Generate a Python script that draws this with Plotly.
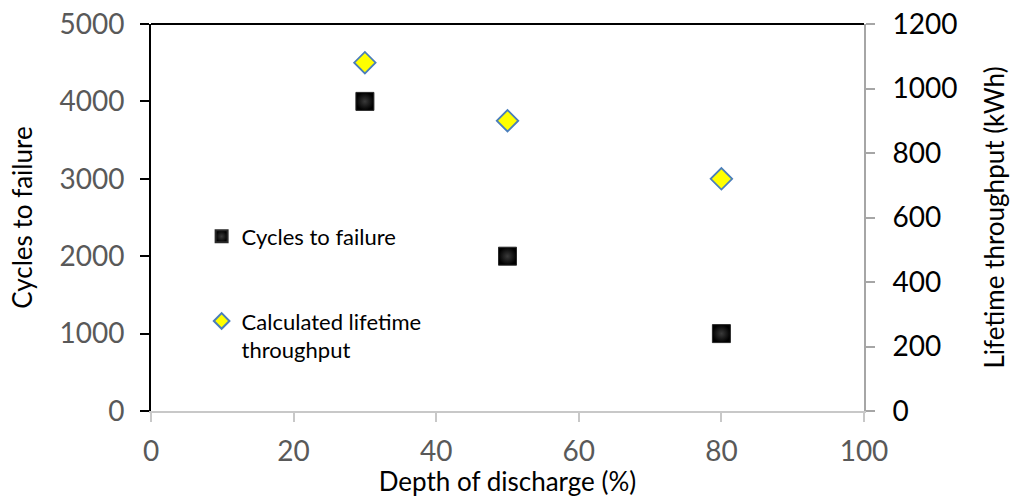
import plotly.graph_objects as go

# Depth of discharge (%) and measured / derived battery life
depth_of_discharge = [30, 50, 80]
cycles_to_failure = [4000, 2000, 1000]
lifetime_throughput_kwh = [1080, 900, 720]

x_ticks = [0, 20, 40, 60, 80, 100]
left_ticks = [0, 1000, 2000, 3000, 4000, 5000]
right_ticks = [0, 200, 400, 600, 800, 1000, 1200]

FONT = "Lato"
GREY_TXT = "#595959"
TICK_SIZE = 28
TITLE_SIZE = 26

fig = go.Figure()

fig.add_trace(go.Scatter(
    x=depth_of_discharge, y=cycles_to_failure,
    mode="markers", name="Cycles to failure",
    legendgroup="a",
    marker=dict(symbol="square", size=18, color="#000000",
                gradient=dict(type="radial", color="#3a3a3a"),
                line=dict(color="#2a2a2a", width=1)),
    xaxis="x", yaxis="y",
))

fig.add_trace(go.Scatter(
    x=depth_of_discharge, y=lifetime_throughput_kwh,
    mode="markers", name="Calculated lifetime<br>throughput",
    legendgroup="b",
    marker=dict(symbol="diamond", size=16.5, color="#ffff00",
                line=dict(color="#4a7ebb", width=1.8)),
    xaxis="x", yaxis="y2",
))

# horizontal rule closing the plot area at the top
fig.add_shape(type="line", xref="paper", yref="paper", x0=0, x1=1, y0=1, y1=1,
              line=dict(color="#000000", width=2), layer="below")

fig.update_layout(
    width=1010, height=497,
    margin=dict(l=151, r=146, t=24, b=86),
    paper_bgcolor="white", plot_bgcolor="white",
    font=dict(family=FONT, color="#000000"),
    showlegend=True,
    legend=dict(x=0.071, y=0.505, xanchor="left", yanchor="top",
                bgcolor="rgba(0,0,0,0)", font=dict(size=22, family=FONT, color="#000000"),
                itemsizing="constant", valign="top", tracegroupgap=53,
                traceorder="grouped"),
    xaxis=dict(
        range=[0, 100], tickvals=x_ticks, ticks="outside", ticklen=9,
        tickcolor="#c8c8c8", tickwidth=1.5, showline=True, linecolor="#c8c8c8",
        linewidth=1.5, showgrid=False, zeroline=False, automargin=False,
        tickfont=dict(size=TICK_SIZE, color=GREY_TXT, family=FONT), ticklabelstandoff=6,
        title=dict(text="Depth of discharge (%)", font=dict(size=TITLE_SIZE, color="#000000", family=FONT),
                   standoff=10),
    ),
    xaxis2=dict(
        overlaying="x", matches="x", range=[0, 100], tickvals=x_ticks, ticks="inside",
        ticklen=9, tickcolor="#c8c8c8", tickwidth=1.5, showticklabels=False,
        showgrid=False, zeroline=False, showline=False, side="bottom", automargin=False,
    ),
    yaxis=dict(
        range=[0, 5000], tickvals=left_ticks, ticks="outside", ticklen=9,
        tickcolor="#000000", tickwidth=2, showline=True, linecolor="#000000",
        linewidth=2, showgrid=False, zeroline=False, automargin=False,
        tickfont=dict(size=TICK_SIZE, color=GREY_TXT, family=FONT), ticklabelstandoff=10,
        title=dict(text="Cycles to failure", font=dict(size=TITLE_SIZE, color="#000000", family=FONT),
                   standoff=19),
    ),
    yaxis3=dict(
        overlaying="y", range=[0, 5000], tickvals=left_ticks, ticks="inside", ticklen=9,
        tickcolor="#000000", tickwidth=2, showticklabels=False, showgrid=False,
        zeroline=False, showline=False, side="left", automargin=False,
    ),
    yaxis2=dict(
        overlaying="y", side="right", range=[0, 1200], tickvals=right_ticks,
        ticks="outside", ticklen=9, tickcolor="#a6a6a6", tickwidth=1.5,
        showline=True, linecolor="#a6a6a6", linewidth=2, showgrid=False, zeroline=False,
        automargin=False,
        tickfont=dict(size=TICK_SIZE, color="#000000", family=FONT), ticklabelstandoff=12,
        title=dict(text="Lifetime throughput (kWh)", font=dict(size=TITLE_SIZE, color="#000000", family=FONT),
                   standoff=41),
    ),
    yaxis4=dict(
        overlaying="y", side="right", range=[0, 1200], tickvals=right_ticks,
        ticks="inside", ticklen=9, tickcolor="#a6a6a6", tickwidth=1.5,
        showticklabels=False, showgrid=False, zeroline=False, showline=False,
        automargin=False,
    ),
)

fig.write_html("out.html")
